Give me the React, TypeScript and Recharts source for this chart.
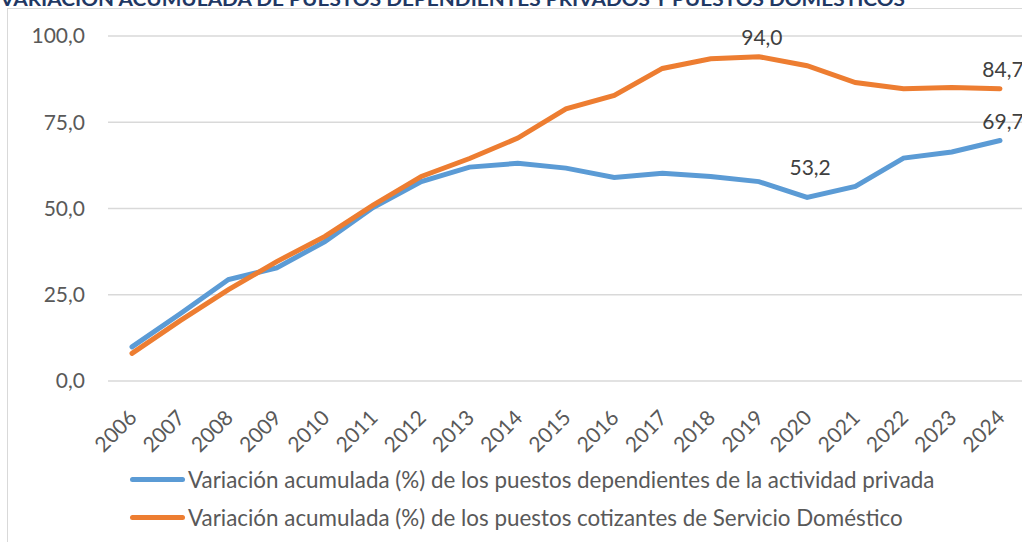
import { LineChart, Line, XAxis, YAxis, CartesianGrid, LabelList } from "recharts";

const years = [
  "2006", "2007", "2008", "2009", "2010", "2011", "2012", "2013", "2014", "2015",
  "2016", "2017", "2018", "2019", "2020", "2021", "2022", "2023", "2024",
];

// variación acumulada (%) puestos dependientes actividad privada
const privados = [
  9.9, 19.5, 29.4, 32.8, 40.4, 50.3, 57.8, 62.0, 63.1, 61.7,
  59.0, 60.2, 59.3, 57.8, 53.2, 56.4, 64.6, 66.4, 69.7,
];

// variación acumulada (%) puestos cotizantes servicio doméstico
const domesticos = [
  8.0, 17.5, 26.5, 34.6, 41.9, 51.0, 59.3, 64.5, 70.4, 78.9,
  82.8, 90.6, 93.4, 94.0, 91.4, 86.5, 84.7, 85.1, 84.7,
];

const yTicks = [0, 25, 50, 75, 100];

const privadosLabelYears = ["2020", "2024"];
const domesticosLabelYears = ["2019", "2024"];

const seriesNames = [
  "Variación acumulada (%) de los puestos dependientes de la actividad privada",
  "Variación acumulada (%) de los puestos cotizantes de Servicio Doméstico",
];

const title = "VARIACIÓN ACUMULADA DE PUESTOS DEPENDIENTES PRIVADOS Y PUESTOS DOMÉSTICOS";

const BLUE = "#5B9BD5";
const ORANGE = "#ED7D31";
const FONT = "Lato, 'Open Sans', sans-serif";

const fmt = (v: number) => v.toFixed(1).replace(".", ",");

const data = years.map((year, i) => ({
  year,
  privados: privados[i],
  domesticos: domesticos[i],
}));

const makeLabel = (labelYears: string[], lift: Record<string, number>) => (props: any) => {
  const { x, y, value, index } = props;
  const year = years[index];
  if (!labelYears.includes(year)) return null;
  return (
    <text
      x={x + 3}
      y={y - (lift[year] ?? 12)}
      textAnchor="middle"
      fill="#404040"
      fontSize={21}
      fontFamily={FONT}
    >
      {fmt(value)}
    </text>
  );
};

const YearTick = (props: any) => {
  const { x, y, payload } = props;
  return (
    <text
      x={x + 6}
      y={y + 30}
      transform={`rotate(-45, ${x + 6}, ${y + 30})`}
      textAnchor="end"
      fill="#595959"
      fontSize={21}
      fontFamily={FONT}
    >
      {payload.value}
    </text>
  );
};

export default function App() {
  return (
    <div
      style={{
        position: "fixed",
        left: 0,
        top: 0,
        width: 1022,
        height: 542,
        overflow: "hidden",
        background: "#fff",
      }}
    >
      <div
        style={{
          position: "absolute",
          left: 7,
          top: 8,
          width: 1040,
          height: 560,
          borderLeft: "1px solid #d9d9d9",
          borderTop: "1px solid #d9d9d9",
        }}
      />
      <div style={{ position: "absolute", left: 0, top: 0 }}>
        <LineChart
          width={1040}
          height={542}
          data={data}
          margin={{ top: 36, right: 16, left: 0, bottom: 0 }}
        >
          <CartesianGrid vertical={false} stroke="#d9d9d9" strokeWidth={1.5} />
          <XAxis
            dataKey="year"
            axisLine={false}
            tickLine={false}
            interval={0}
            padding={{ left: 24, right: 24 }}
            height={161}
            tick={<YearTick />}
          />
          <YAxis
            domain={[0, 100]}
            ticks={yTicks}
            width={108}
            axisLine={false}
            tickLine={false}
            tickMargin={17}
            tickFormatter={fmt}
            tick={{ fill: "#595959", fontSize: 21, fontFamily: FONT }}
          />
          <Line
            type="linear"
            dataKey="privados"
            stroke={BLUE}
            strokeWidth={5}
            dot={false}
            strokeLinecap="round"
            isAnimationActive={false}
          >
            <LabelList content={makeLabel(privadosLabelYears, { "2020": 22, "2024": 12 })} />
          </Line>
          <Line
            type="linear"
            dataKey="domesticos"
            stroke={ORANGE}
            strokeWidth={5}
            dot={false}
            strokeLinecap="round"
            isAnimationActive={false}
          >
            <LabelList content={makeLabel(domesticosLabelYears, { "2019": 12, "2024": 12 })} />
          </Line>
        </LineChart>
      </div>
      {/* título recortado en el borde superior, como en la imagen original */}
      <svg
        width={1022}
        height={12}
        style={{ position: "absolute", left: 0, top: 0, zIndex: 2, overflow: "hidden" }}
      >
        <text
          x={0}
          y={6}
          fill="#1F3864"
          fontFamily={FONT}
          fontWeight={700}
          fontSize={18}
          textLength={905}
          lengthAdjust="spacingAndGlyphs"
        >
          {title}
        </text>
      </svg>
      {seriesNames.map((name, i) => (
        <div
          key={name}
          style={{
            position: "absolute",
            left: 130,
            top: 465 + i * 38,
            height: 28,
            display: "flex",
            alignItems: "center",
            fontFamily: FONT,
            fontSize: 22.4,
            color: "#595959",
            whiteSpace: "nowrap",
          }}
        >
          <span
            style={{
              display: "inline-block",
              width: 55,
              height: 5,
              borderRadius: 3,
              background: i === 0 ? BLUE : ORANGE,
              marginRight: 3,
            }}
          />
          {name}
        </div>
      ))}
    </div>
  );
}
